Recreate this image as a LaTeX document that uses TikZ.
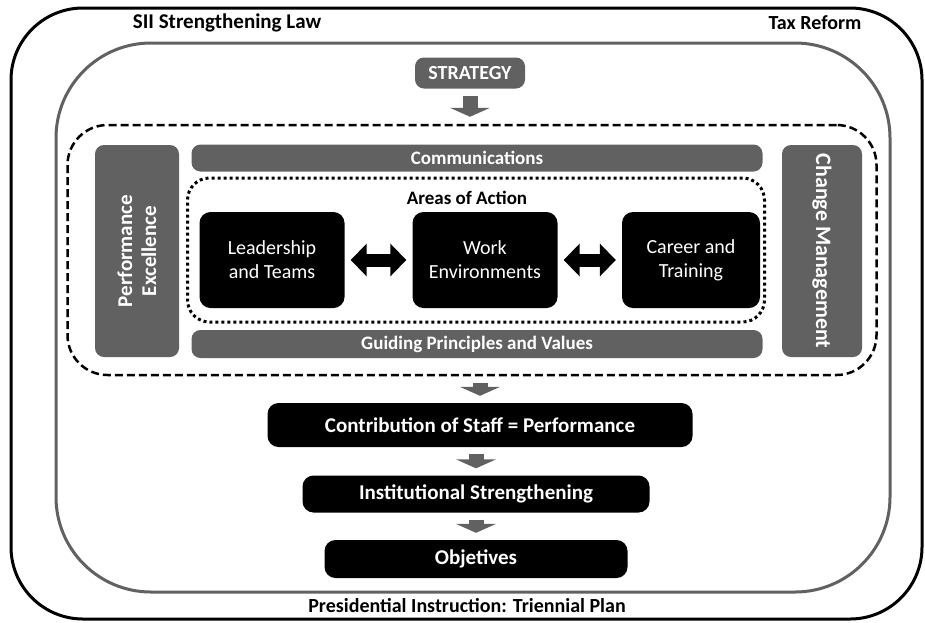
\documentclass[tikz,border=0pt]{standalone}
\usepackage{fontspec}
\setmainfont{Carlito}
\usetikzlibrary{arrows.meta}

\begin{document}
\begin{tikzpicture}[x=1pt,y=-1pt,
    heading/.style={font=\bfseries\fontsize{20}{22}\selectfont},
    graybox/.style={fill=black!62,rounded corners=9pt,text=white,inner sep=0pt,align=center,
      font=\bfseries\fontsize{19}{21}\selectfont},
    blackbox/.style={fill=black,rounded corners=11pt,text=white,inner sep=0pt,align=center,
      font=\fontsize{20}{24}\selectfont},
    resultbox/.style={blackbox,font=\bfseries\fontsize{21}{23}\selectfont},
    downarrow/.style={black!62,line width=15pt,-{Triangle[width=40pt,length=9pt]},
      shorten <=7pt,shorten >=7pt},
    botharrow/.style={line width=13pt,{Triangle[width=32pt,length=16pt]}-{Triangle[width=32pt,length=16pt]},
      shorten <=6pt,shorten >=6pt}]
        \useasboundingbox (0,0) rectangle (925,622);
        % outer frames
        \draw[line width=3pt,rounded corners=72pt] (11,8) rectangle (922,619);
        \draw[black!62,line width=3pt,rounded corners=95pt] (56,43) rectangle (890,592);
        \node[heading,font=\bfseries\fontsize{21}{23}\selectfont] (sii) at (227,23) {SII Strengthening Law};
        \node[heading] (tax) at (815,23) {Tax Reform};
        \node[heading] (plan) at (467,606) {Presidential Instruction: Triennial Plan};
        \node[graybox,font=\bfseries\fontsize{20}{22}\selectfont,minimum width=110pt,minimum height=31pt] (strategy) at (470,73) {STRATEGY};
        % dashed block
        \node[draw,line width=2.5pt,dash pattern=on 8pt off 4pt,rounded corners=40pt,
          minimum width=809pt,minimum height=250pt] (frame) at (472,250) {};
        \node[graybox,rotate=90,font=\bfseries\fontsize{21}{24}\selectfont,minimum width=212pt,minimum height=84pt] (perf) at (137,251) {Performance\\Excellence};
        \node[graybox,rotate=-90,font=\bfseries\fontsize{22}{24}\selectfont,minimum width=212pt,minimum height=80pt] (change) at (822,251) {Change Management};
        \node[graybox,minimum width=571pt,minimum height=27pt] (comm) at (477,158) {Communications};
        \node[graybox,minimum width=571pt,minimum height=28pt] (values) at (477,344) {Guiding Principles and Values};
        % areas of action
        \node[draw,line width=3pt,dash pattern=on 3pt off 3pt,rounded corners=22pt,
          minimum width=577pt,minimum height=144pt] (areas) at (476,250) {};
        \node[heading,font=\bfseries\fontsize{19}{21}\selectfont] (areastitle) at (467,198) {Areas of Action};
        \node[blackbox,minimum width=145pt,minimum height=96pt] (lead) at (272,260) {Leadership\\and Teams};
        \node[blackbox,minimum width=145pt,minimum height=96pt] (work) at (485,260) {Work\\Environments};
        \node[blackbox,minimum width=138pt,minimum height=96pt] (career) at (691,260) {Career and\\Training};
        \draw[botharrow] (lead) -- (work);
        \draw[botharrow] (work) -- (career);
        % results
        \node[resultbox,minimum width=425pt,minimum height=44pt] (contrib) at (480,425) {Contribution of Staff = Performance};
        \node[resultbox,minimum width=347pt,minimum height=37pt] (inst) at (476,494) {Institutional Strengthening};
        \node[resultbox,minimum width=303pt,minimum height=38pt] (obj) at (476,559) {Objetives};
        \draw[downarrow] (strategy) -- (strategy |- frame.north);
        \draw[downarrow] (frame.south -| contrib) -- (contrib);
        \draw[downarrow] (contrib.south -| inst) -- (inst);
        \draw[downarrow] (inst) -- (obj);
      \end{tikzpicture}
\end{document}
